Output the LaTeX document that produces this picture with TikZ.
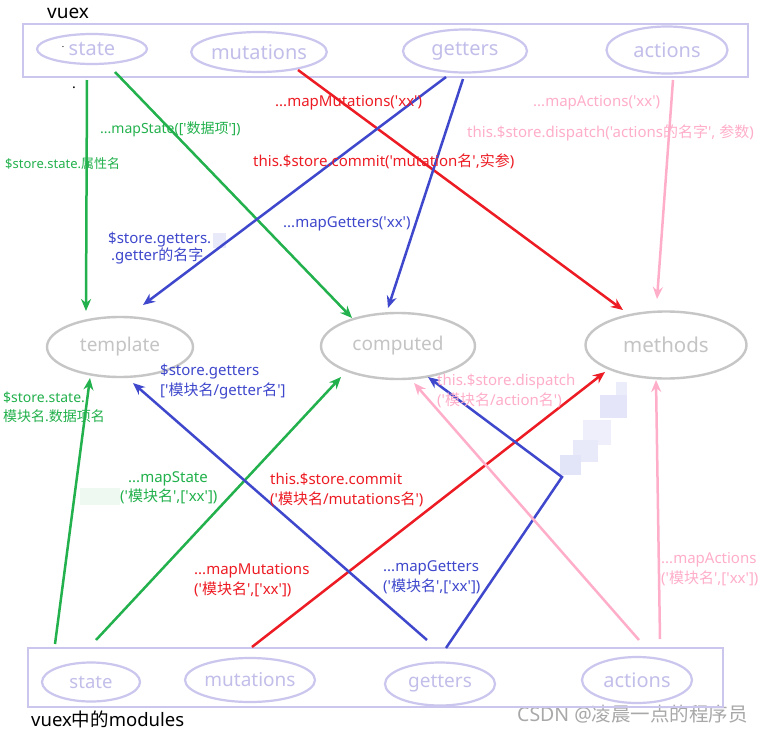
\documentclass[tikz,border=0pt]{standalone}
\usepackage{fontspec}
\newfontfamily\latf{Noto Sans}
\newfontfamily\cjf{Noto Sans CJK SC}
\newcommand\cj[1]{{\cjf #1}}
\usetikzlibrary{shapes.geometric,arrows.meta}
\definecolor{lav}{HTML}{CAC6EE}
\definecolor{lavt}{HTML}{C2BEEA}
\definecolor{gr}{HTML}{22B14C}
\definecolor{rd}{HTML}{ED1C24}
\definecolor{bl}{HTML}{3F48CC}
\definecolor{pk}{HTML}{FFAEC9}
\definecolor{gy}{HTML}{C6C6C6}
\definecolor{gyt}{HTML}{C4C4C4}
\definecolor{wm}{HTML}{A8A8A8}
\begin{document}
\begin{tikzpicture}[x=1pt,y=-1pt,
  vbox/.style={draw=lav,line width=2.5pt,inner sep=0pt},
  vel/.style={ellipse,draw=lav,line width=2.2pt,inner sep=0pt,text=lavt,font=\latf\fontsize{20}{20}\selectfont},
  mel/.style={ellipse,draw=gy,line width=2.4pt,inner sep=0pt,text=gyt,font=\latf\fontsize{19}{19}\selectfont},
  arr/.style={line width=2.5pt,-{Stealth[length=12pt,width=10pt]}},
  lbl/.style={anchor=west,inner sep=0pt,align=left,font=\latf\fontsize{15}{20}\selectfont},
  slbl/.style={lbl,font=\latf\fontsize{14}{19}\selectfont},
  blur/.style={draw=none,fill=#1}
]
\useasboundingbox (0,0) rectangle (764,734);
\fill[white] (0,0) rectangle (764,734);

% titles
\node[anchor=west,inner sep=0pt,font=\latf\fontsize{19}{19}\selectfont] (tvuex) at (47,13) {vuex};
\node[anchor=west,inner sep=0pt,font=\latf\fontsize{18.5}{18.5}\selectfont] (tmod) at (31,719) {vuex\cj{中的}modules};
\node[anchor=west,inner sep=0pt,text=wm,font=\latf\fontsize{19.5}{19.5}\selectfont] (wmk) at (517,714) {CSDN @\cj{凌晨一点的程序员}};
\node[inner sep=0pt,font=\latf\fontsize{14}{14}\selectfont] (dot) at (74,88) {.};
\node[inner sep=0pt,font=\latf\fontsize{9}{9}\selectfont] (dot2) at (63,47) {.};

% top box
\node[vbox,minimum width=725pt,minimum height=53pt] (topbox) at (385.5,50.5) {};
\node[vel,minimum width=110pt,minimum height=30pt] (vstate) at (92,49) {state};
\node[vel,minimum width=130pt,minimum height=40pt] (vmut) at (259,52) {mutations};
\node[vel,minimum width=124pt,minimum height=43pt] (vget) at (465,51) {getters};
\node[vel,minimum width=121pt,minimum height=47pt] (vact) at (667,50) {actions};

% middle
\node[mel,minimum width=146pt,minimum height=60pt] (tmpl) at (120,347) {template};
\node[mel,minimum width=154pt,minimum height=66pt] (comp) at (398,346) {computed};
\node[mel,minimum width=161pt,minimum height=67pt,font=\latf\fontsize{20.5}{20.5}\selectfont] (meth) at (666,345) {methods};

% bottom box
\node[vbox,minimum width=695pt,minimum height=59pt] (botbox) at (375.5,677.5) {};
\node[vel,minimum width=98pt,minimum height=39pt,font=\latf\fontsize{18.5}{18.5}\selectfont] (mstate) at (91,682) {state};
\node[vel,minimum width=130pt,minimum height=44pt,font=\latf\fontsize{19}{19}\selectfont] (mmut) at (250,680) {mutations};
\node[vel,minimum width=110pt,minimum height=43pt,font=\latf\fontsize{19}{19}\selectfont] (mget) at (440,684) {getters};
\node[vel,minimum width=110pt,minimum height=46pt] (mact) at (637,680) {actions};

% redaction blur patches
\fill[blur=bl!12] (213,233) rectangle (226,248);
\fill[blur=gr!8] (80,488) rectangle (120,505);
\fill[blur=bl!10] (616,382) rectangle (627,398);
\fill[blur=bl!14] (600,395) rectangle (627,418);
\fill[blur=bl!9] (583,420) rectangle (611,445);
\fill[blur=bl!12] (573,440) rectangle (598,462);
\fill[blur=bl!15] (560,455) rectangle (581,475);

% coordinates
\coordinate (g1s) at (87,80);   \coordinate (g1e) at (86,311);
\coordinate (g2s) at (115,72);  \coordinate (g2e) at (352,318);
\coordinate (r1s) at (298,70);  \coordinate (r1e) at (623,310);
\coordinate (b1s) at (446,77);  \coordinate (b1e) at (143,305);
\coordinate (b2s) at (463,79);  \coordinate (b2e) at (388,308);
\coordinate (p1s) at (673,80);  \coordinate (p1e) at (657,299);
\coordinate (g3s) at (55,644);  \coordinate (g3e) at (90,378);
\coordinate (g4s) at (96,640);  \coordinate (g4e) at (341,377);
\coordinate (r2s) at (252,647); \coordinate (r2e) at (605,372);
\coordinate (b3s) at (427,640); \coordinate (b3e) at (133,383);
\coordinate (b4s) at (446,648); \coordinate (b4m) at (562,477); \coordinate (b4e) at (428,377);
\coordinate (p2s) at (639,640); \coordinate (p2e) at (414,383);
\coordinate (p3s) at (660,639); \coordinate (p3e) at (656,380);

% arrows
\draw[arr,gr] (g1s) -- (g1e);
\draw[arr,gr] (g2s) -- (g2e);
\draw[arr,rd] (r1s) -- (r1e);
\draw[arr,bl] (b1s) -- (b1e);
\draw[arr,bl] (b2s) -- (b2e);
\draw[arr,pk] (p1s) -- (p1e);
\draw[arr,gr] (g3s) -- (g3e);
\draw[arr,gr] (g4s) -- (g4e);
\draw[arr,rd] (r2s) -- (r2e);
\draw[arr,bl] (b3s) -- (b3e);
\draw[arr,bl] (b4s) -- (b4m) -- (b4e);
\draw[arr,pk] (p2s) -- (p2e);
\draw[arr,pk] (p3s) -- (p3e);

% labels top
\node[slbl,text=gr] (l1) at (100,129) {...mapState({[}'\cj{数据项}'{]})};
\node[slbl,text=gr,font=\latf\fontsize{13}{18}\selectfont] (l2) at (5,164) {\$store.state.\cj{属性名}};
\node[lbl,text=rd] (l3) at (275,103) {...mapMutations('xx')};
\node[lbl,text=rd] (l4) at (253,161) {this.\$store.commit('mutation\cj{名}',\cj{实参})};
\node[lbl,text=bl] (l5) at (283,224) {...mapGetters('xx')};
\node[lbl,text=bl] (l6a) at (108,240) {\$store.getters.};
\node[lbl,text=bl] (l6b) at (111,256) {.getter\cj{的名字}};
\node[lbl,text=pk] (l7) at (533,103) {...mapActions('xx')};
\node[lbl,text=pk] (l8) at (467,133) {this.\$store.dispatch('actions\cj{的名字}', \cj{参数})};

% labels bottom
\node[lbl,text=bl] (l9) at (160,382) {\$store.getters\\{[}'\cj{模块名}/getter\cj{名}'{]}};
\node[slbl,text=gr] (l10) at (3,407) {\$store.state.\\\cj{模块名}.\cj{数据项名}};
\node[lbl,text=pk] (l11) at (437,391) {this.\$store.dispatch\\('\cj{模块名}/action\cj{名}')};
\node[lbl,text=gr] (l12a) at (128,479) {...mapState};
\node[lbl,text=gr] (l12b) at (120,496) {('\cj{模块名}',{[}'xx'{]})};
\node[lbl,text=rd] (l13) at (270,490) {this.\$store.commit\\('\cj{模块名}/mutations\cj{名}')};
\node[lbl,text=rd] (l14) at (194,580) {...mapMutations\\('\cj{模块名}',{[}'xx'{]})};
\node[lbl,text=bl] (l15) at (383,577) {...mapGetters\\('\cj{模块名}',{[}'xx'{]})};
\node[lbl,text=pk] (l16) at (661,569) {...mapActions\\('\cj{模块名}',{[}'xx'{]})};
\end{tikzpicture}
\end{document}
